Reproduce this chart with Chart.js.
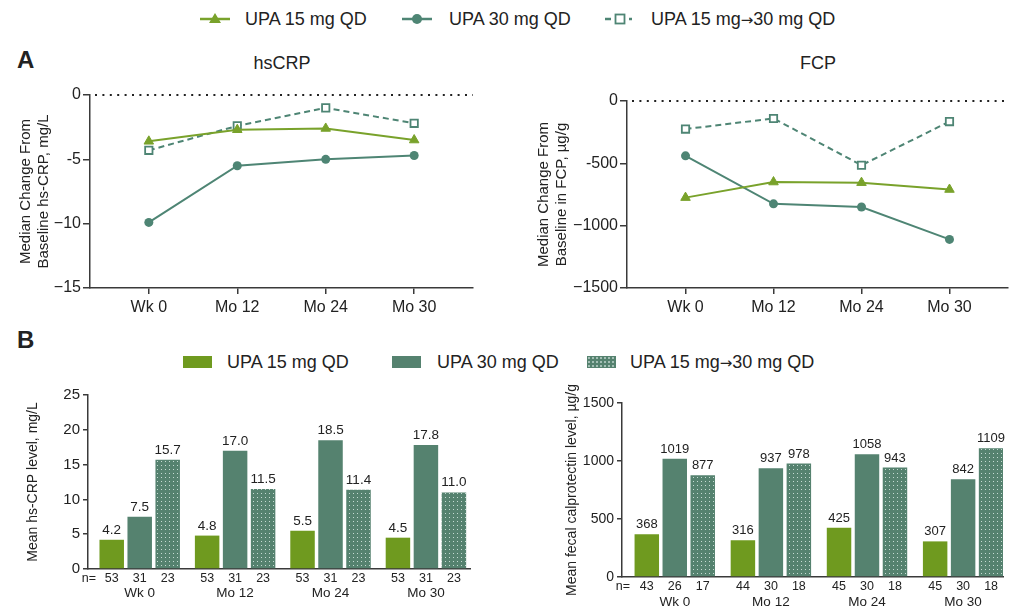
<!DOCTYPE html>
<html>
<head>
<meta charset="utf-8">
<script src="https://cdn.jsdelivr.net/npm/chart.js@4.4.1/dist/chart.umd.min.js"></script>
<style>
  body { margin: 0; background: #fff; font-family: "Liberation Sans", Arial, sans-serif; color: #222; }
  #wrap { position: relative; width: 1015px; height: 610px; overflow: hidden; }
  canvas { position: absolute; }
  .t { position: absolute; white-space: nowrap; line-height: 1; }
  .mid { transform: translate(-50%, -50%); }
  .vmid { transform: translateY(-50%); }
  .letter { font-weight: bold; font-size: 24px; }
  .title { font-size: 18px; }
  .leg { font-size: 18px; }
  .arr { font-family: "DejaVu Sans", sans-serif; font-size: 15px; }
  .sw { position: absolute; width: 29px; height: 12px; }
</style>
</head>
<body>
<div id="wrap">
  <!-- top legend (line charts) -->
  <svg class="t" style="left:198px;top:9px" width="34" height="20">
    <line x1="2" y1="10" x2="32" y2="10" stroke="#79a22b" stroke-width="2.5"/>
    <polygon points="17,4 23,14 11,14" fill="#79a22b"/>
  </svg>
  <div class="t leg vmid" style="left:245px;top:19px">UPA 15 mg QD</div>
  <svg class="t" style="left:400px;top:9px" width="34" height="20">
    <line x1="2" y1="10" x2="32" y2="10" stroke="#4e8574" stroke-width="2.5"/>
    <circle cx="17" cy="10" r="5" fill="#4e8574"/>
  </svg>
  <div class="t leg vmid" style="left:449px;top:19px">UPA 30 mg QD</div>
  <svg class="t" style="left:603px;top:9px" width="34" height="20">
    <line x1="2" y1="10" x2="8" y2="10" stroke="#4e8574" stroke-width="2.5"/>
    <rect x="12.5" y="5.5" width="9" height="9" fill="#fff" stroke="#4e8574" stroke-width="1.8"/>
    <line x1="26" y1="10" x2="29" y2="10" stroke="#4e8574" stroke-width="2.5"/>
  </svg>
  <div class="t leg vmid" style="left:651px;top:19px">UPA 15 mg<span class="arr">→</span>30 mg QD</div>

  <div class="t letter vmid" style="left:17px;top:60px">A</div>
  <div class="t title mid" style="left:282px;top:63px">hsCRP</div>
  <div class="t title mid" style="left:818px;top:63px">FCP</div>

  <div class="t letter vmid" style="left:17px;top:340px">B</div>
  <div class="sw" style="left:183px;top:356px;background:#6f9a1f"></div>
  <div class="t leg vmid" style="left:227px;top:362px">UPA 15 mg QD</div>
  <div class="sw" style="left:392px;top:356px;background:#55826f"></div>
  <div class="t leg vmid" style="left:437px;top:362px">UPA 30 mg QD</div>
  <div class="sw" style="left:587px;top:356px;background-color:#55826f;background-image:radial-gradient(#cfe1da 0.6px, transparent 0.9px);background-size:4px 4px"></div>
  <div class="t leg vmid" style="left:630px;top:362px">UPA 15 mg<span class="arr">→</span>30 mg QD</div>

  <canvas id="crpLine" width="500" height="280" style="left:0;top:40px"></canvas>
  <canvas id="fcpLine" width="515" height="280" style="left:500px;top:40px"></canvas>
  <canvas id="crpBar" width="500" height="230" style="left:0;top:380px"></canvas>
  <canvas id="fcpBar" width="515" height="230" style="left:500px;top:380px"></canvas>
</div>

<script>
const timepoints = ['Wk 0', 'Mo 12', 'Mo 24', 'Mo 30'];
const seriesNames = ['UPA 15 mg QD', 'UPA 30 mg QD', 'UPA 15 mg→30 mg QD'];

// A: median change from baseline
const crpChange15 = [-3.6, -2.7, -2.6, -3.5];
const crpChange30 = [-9.9, -5.5, -5.0, -4.7];
const crpChangeSwitch = [-4.3, -2.4, -1.0, -2.2];
const crpTickValues = [0, -5, -10, -15];
const crpTickLabels = ['0', '-5', '\u221210', '\u221215'];

const fcpChange15 = [-775, -650, -655, -710];
const fcpChange30 = [-440, -825, -850, -1110];
const fcpChangeSwitch = [-225, -140, -515, -165];
const fcpTickValues = [0, -500, -1000, -1500];
const fcpTickLabels = ['0', '-500', '\u22121000', '\u22121500'];

// B: mean levels and n per bar
const crpMean15 = [4.2, 4.8, 5.5, 4.5];
const crpMean30 = [7.5, 17.0, 18.5, 17.8];
const crpMeanSwitch = [15.7, 11.5, 11.4, 11.0];
const crpN15 = [53, 53, 53, 53];
const crpN30 = [31, 31, 31, 31];
const crpNSwitch = [23, 23, 23, 23];

const fcpMean15 = [368, 316, 425, 307];
const fcpMean30 = [1019, 937, 1058, 842];
const fcpMeanSwitch = [877, 978, 943, 1109];
const fcpN15 = [43, 44, 45, 45];
const fcpN30 = [26, 30, 30, 30];
const fcpNSwitch = [17, 18, 18, 18];

const GREEN_LINE = '#79a22b';
const TEAL_LINE = '#4e8574';
const GREEN_BAR = '#6f9a1f';
const TEAL_BAR = '#55826f';
const AXIS = '#3a3a3a';
const FONT = '"Liberation Sans", Arial, sans-serif';

Chart.defaults.font.family = FONT;
Chart.defaults.color = '#222';
Chart.defaults.animation = false;

const toPoints = arr => arr.map((v, i) => ({ x: i, y: v }));

// dotted reference line at 0
const zeroLine = {
    id: 'zeroLine',
    beforeDatasetsDraw(chart) {
        const { ctx, chartArea, scales } = chart;
        const y = scales.y.getPixelForValue(0);
        ctx.save();
        ctx.strokeStyle = '#222';
        ctx.lineWidth = 2;
        ctx.setLineDash([2, 5.4]);
        ctx.beginPath();
        ctx.moveTo(chartArea.left + 5, y);
        ctx.lineTo(chartArea.right, y);
        ctx.stroke();
        ctx.restore();
    }
};

// value labels above bars and n= row below
const barText = {
    id: 'barText',
    afterDatasetsDraw(chart, args, opts) {
        const { ctx, chartArea } = chart;
        ctx.save();
        ctx.fillStyle = '#222';
        ctx.textAlign = 'center';
        chart.data.datasets.forEach((ds, di) => {
            chart.getDatasetMeta(di).data.forEach((bar, i) => {
                ctx.font = `${opts.valueSize}px ${FONT}`;
                ctx.textBaseline = 'bottom';
                ctx.fillText(opts.format(ds.data[i].y), bar.x, bar.y - 3);
                ctx.font = `${opts.nSize}px ${FONT}`;
                ctx.textBaseline = 'middle';
                ctx.fillText(String(opts.n[di][i]), bar.x, chartArea.bottom + opts.nOffset);
            });
        });
        ctx.fillText('n=', chartArea.left + 1, chartArea.bottom + opts.nOffset);
        ctx.restore();
    }
};

function lineChart(id, s15, s30, sw, tickValues, tickLabels, title, lay) {
    return new Chart(document.getElementById(id), {
        type: 'line',
        data: {
            datasets: [
                { label: seriesNames[0], data: toPoints(s15), borderColor: GREEN_LINE, backgroundColor: GREEN_LINE,
                  borderWidth: 2, pointStyle: 'triangle', pointRadius: 5.5, pointBorderWidth: 1, pointBorderColor: GREEN_LINE },
                { label: seriesNames[1], data: toPoints(s30), borderColor: TEAL_LINE, backgroundColor: TEAL_LINE,
                  borderWidth: 2, pointStyle: 'circle', pointRadius: 4.5, pointBorderWidth: 0 },
                { label: seriesNames[2], data: toPoints(sw), borderColor: TEAL_LINE, backgroundColor: '#fff',
                  borderWidth: 2, borderDash: [6, 4], pointStyle: 'rect', pointRadius: 5.2, pointBorderWidth: 1.8 }
            ]
        },
        options: {
            responsive: false,
            layout: { padding: lay.pad },
            plugins: { legend: { display: false }, tooltip: { enabled: false } },
            scales: {
                x: {
                    type: 'linear', min: -0.665, max: 3.665,
                    afterBuildTicks: s => { s.ticks = timepoints.map((t, i) => ({ value: i })); },
                    afterFit: s => { s.height = lay.xH; },
                    ticks: { callback: v => timepoints[v], font: { size: 16 }, color: '#222', padding: 4, maxRotation: 0, autoSkip: false },
                    grid: { display: true, drawOnChartArea: false, tickLength: 6, color: AXIS, lineWidth: 1.5 },
                    border: { color: AXIS, width: 1.5 }
                },
                y: {
                    min: tickValues[tickValues.length - 1], max: 0,
                    afterBuildTicks: s => { s.ticks = tickValues.map(v => ({ value: v })); },
                    afterFit: s => { s.width = lay.yW; },
                    ticks: { callback: v => tickLabels[tickValues.indexOf(v)], font: { size: 16 }, color: '#222', padding: 2 },
                    grid: { display: true, drawOnChartArea: false, tickLength: 7, color: AXIS, lineWidth: 1.5 },
                    border: { color: AXIS, width: 1.5 },
                    title: { display: true, text: title, font: { size: 15, lineHeight: 1.25 }, color: '#222', padding: { top: 4, bottom: 4 } }
                }
            }
        },
        plugins: [zeroLine]
    });
}

function barChart(id, m15, m30, msw, n, yMax, yStep, title, fmt, lay) {
    const cv = document.getElementById(id);
    const tile = document.createElement('canvas');
    tile.width = 4; tile.height = 4;
    const tg = tile.getContext('2d');
    tg.fillStyle = TEAL_BAR; tg.fillRect(0, 0, 4, 4);
    tg.fillStyle = '#c6dbd3'; tg.fillRect(1, 1, 1, 1);
    const dots = cv.getContext('2d').createPattern(tile, 'repeat');

    return new Chart(cv, {
        type: 'bar',
        data: {
            datasets: [
                { label: seriesNames[0], data: toPoints(m15), backgroundColor: GREEN_BAR },
                { label: seriesNames[1], data: toPoints(m30), backgroundColor: TEAL_BAR },
                { label: seriesNames[2], data: toPoints(msw), backgroundColor: dots }
            ]
        },
        options: {
            responsive: false,
            layout: { padding: lay.pad },
            categoryPercentage: lay.cat,
            barPercentage: 0.875,
            plugins: {
                legend: { display: false }, tooltip: { enabled: false },
                barText: { n: n, format: fmt, valueSize: lay.valSize, nSize: 12.5, nOffset: lay.nOff }
            },
            scales: {
                x: {
                    type: 'linear', min: lay.xMin, max: lay.xMax, offset: false,
                    afterBuildTicks: s => { s.ticks = timepoints.map((t, i) => ({ value: i })); },
                    afterFit: s => { s.height = lay.xH; },
                    ticks: { callback: v => timepoints[v], font: { size: 13.5 }, color: '#222', padding: lay.labPad, maxRotation: 0, autoSkip: false },
                    grid: { display: false, drawTicks: false, offset: false },
                    border: { color: AXIS, width: 1.5 }
                },
                y: {
                    min: 0, max: yMax,
                    ticks: { stepSize: yStep, callback: v => String(v), font: { size: lay.tickSize }, color: '#222', padding: 3 },
                    afterFit: s => { s.width = lay.yW; },
                    grid: { display: true, drawOnChartArea: false, tickLength: 5, color: AXIS, lineWidth: 1.5 },
                    border: { color: AXIS, width: 1.5 },
                    title: { display: true, text: title, font: { size: 14, lineHeight: 1.2 }, color: '#222', padding: { top: 4, bottom: 4 } }
                }
            }
        },
        plugins: [barText]
    });
}

lineChart('crpLine', crpChange15, crpChange30, crpChangeSwitch, crpTickValues, crpTickLabels,
    ['Median Change From', 'Baseline hs-CRP, mg/L'],
    { pad: { left: 12, right: 27, top: 55, bottom: 0 }, yW: 78, xH: 32 });

lineChart('fcpLine', fcpChange15, fcpChange30, fcpChangeSwitch, fcpTickValues, fcpTickLabels,
    ['Median Change From', 'Baseline in FCP, \u00b5g/g'],
    { pad: { left: 30, right: 5, top: 61, bottom: 0 }, yW: 97, xH: 32 });

barChart('crpBar', crpMean15, crpMean30, crpMeanSwitch, [crpN15, crpN30, crpNSwitch], 25, 5,
    'Mean hs-CRP level, mg/L', v => v.toFixed(1),
    { pad: { left: 21, right: 30, top: 15, bottom: 0 }, yW: 67, xH: 41, xMin: -0.542, xMax: 3.462,
      cat: 0.88, nOff: 9.5, labPad: 16, tickSize: 15, valSize: 13.5 });

barChart('fcpBar', fcpMean15, fcpMean30, fcpMeanSwitch, [fcpN15, fcpN30, fcpNSwitch], 1500, 500,
    'Mean fecal calprotectin level, \u00b5g/g', v => String(v),
    { pad: { left: 60, right: 12, top: 23, bottom: 0 }, yW: 62, xH: 33, xMin: -0.549, xMax: 3.415,
      cat: 0.873, nOff: 9.5, labPad: 17, tickSize: 14, valSize: 13 });
</script>
</body>
</html>
